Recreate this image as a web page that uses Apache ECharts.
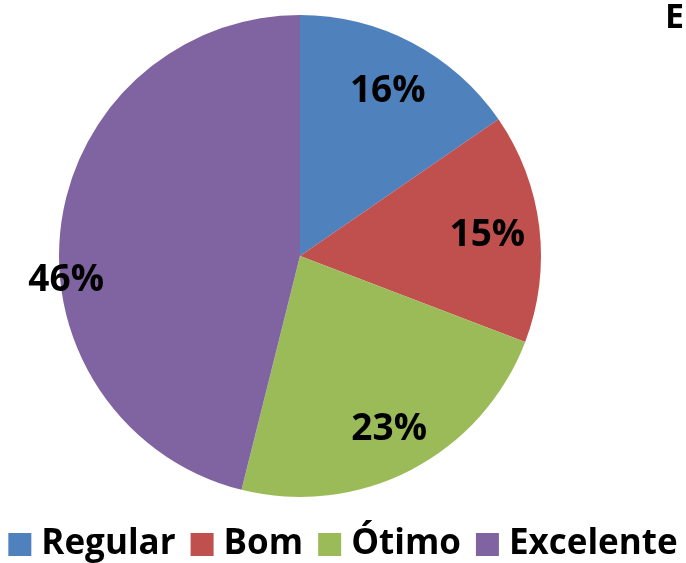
<!DOCTYPE html>
<html>
<head>
<meta charset="utf-8">
<script src="https://cdn.jsdelivr.net/npm/echarts@6/dist/echarts.min.js"></script>
<style>
  html, body { margin: 0; padding: 0; background: #fff; }
  #chart { width: 686px; height: 563px; }
</style>
</head>
<body>
<div id="chart"></div>
<script>
// dados
const categories = ['Regular', 'Bom', 'Ótimo', 'Excelente'];
const values = [15.4, 15.4, 23.1, 46.1];
const labelTexts = ['16%', '15%', '23%', '46%'];
const colors = ['#4F81BD', '#C0504D', '#9BBB59', '#8064A2'];
const titleText = 'E';

const FONT = '"Open Sans", "Noto Sans", sans-serif';
const CX = 300, CY = 256, R = 241;
// posição dos rótulos: fração do raio e desvio angular (graus)
const labelRadius = [0.783, 0.783, 0.8, 0.975];
const labelAngleShift = [0, 0, 0, -12.6];

const total = values.reduce((a, b) => a + b, 0);
const midAngles = [];
let acc = 0;
values.forEach(v => {
    midAngles.push((acc + v / 2) / total * 360);
    acc += v;
});

const chart = echarts.init(document.getElementById('chart'));

chart.setOption({
    backgroundColor: '#fff',
    animation: false,
    // título cortado na borda direita (só o "E" aparece)
    graphic: [{
        type: 'text',
        x: 665,
        y: 1,
        style: {
            text: titleText,
            font: 'bold 34px "Open Sans", sans-serif',
            fill: '#000'
        }
    }],
    legend: {
        data: categories,
        left: 'center',
        bottom: -4,
        itemWidth: 23,
        itemHeight: 23,
        itemGap: 15,
        icon: 'rect',
        textStyle: {
            fontFamily: FONT,
            fontSize: 35,
            fontWeight: 'bold',
            color: '#000',
            padding: [0, 0, 0, 5]
        }
    },
    series: [{
        type: 'pie',
        center: [CX, CY],
        radius: R,
        startAngle: 90,
        clockwise: true,
        itemStyle: { borderWidth: 0 },
        emphasis: { disabled: true },
        data: categories.map((name, i) => ({
            name: name,
            value: values[i],
            itemStyle: { color: colors[i] }
        })),
        label: {
            show: true,
            position: 'inside',
            formatter: p => labelTexts[p.dataIndex],
            fontFamily: FONT,
            fontSize: 37,
            fontWeight: 'bold',
            color: '#000'
        },
        labelLine: { show: false },
        labelLayout: p => {
            const i = p.dataIndex;
            const a = (midAngles[i] + labelAngleShift[i]) * Math.PI / 180;
            const d = R * labelRadius[i];
            return {
                x: CX + d * Math.sin(a),
                y: CY - d * Math.cos(a) + 2,
                align: 'center',
                verticalAlign: 'middle'
            };
        }
    }]
});
</script>
</body>
</html>
